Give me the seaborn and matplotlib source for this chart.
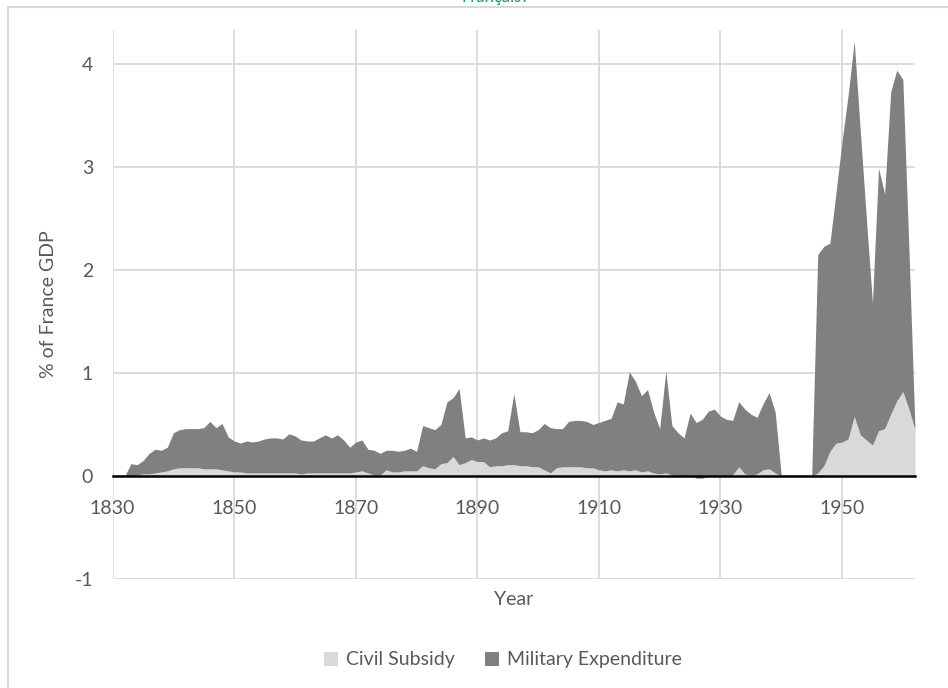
import matplotlib
matplotlib.use("Agg")
import matplotlib.pyplot as plt
import seaborn as sns
import pandas as pd
from matplotlib.patches import Rectangle, Patch

years = list(range(1830, 1963))

civil_subsidy = [
    0.00, 0.00, 0.00, 0.00, 0.01, 0.02, 0.02, 0.03, 0.04, 0.05,   # 1830-1839
    0.07, 0.08, 0.08, 0.08, 0.08, 0.07, 0.07, 0.07, 0.06, 0.05,   # 1840-1849
    0.04, 0.04, 0.03, 0.03, 0.03, 0.03, 0.03, 0.03, 0.03, 0.03,   # 1850-1859
    0.03, 0.02, 0.03, 0.03, 0.03, 0.03, 0.03, 0.03, 0.03, 0.03,   # 1860-1869
    0.04, 0.05, 0.03, 0.01, 0.01, 0.06, 0.04, 0.04, 0.05, 0.05,   # 1870-1879
    0.05, 0.10, 0.08, 0.07, 0.12, 0.13, 0.19, 0.11, 0.13, 0.16,   # 1880-1889
    0.14, 0.14, 0.09, 0.10, 0.10, 0.11, 0.11, 0.10, 0.10, 0.09,   # 1890-1899
    0.09, 0.06, 0.03, 0.08, 0.09, 0.09, 0.09, 0.09, 0.08, 0.08,   # 1900-1909
    0.06, 0.05, 0.06, 0.05, 0.06, 0.05, 0.06, 0.04, 0.05, 0.03,   # 1910-1919
    0.02, 0.03, 0.01, 0.00, 0.00, 0.01, -0.02, -0.02, 0.00, 0.00, # 1920-1929
    0.00, 0.00, 0.01, 0.09, 0.02, 0.01, 0.02, 0.06, 0.07, 0.03,   # 1930-1939
    0.00, 0.00, 0.00, 0.00, 0.00, 0.00, 0.03, 0.10, 0.24, 0.32,   # 1940-1949
    0.33, 0.36, 0.58, 0.40, 0.35, 0.30, 0.44, 0.46, 0.60, 0.73,   # 1950-1959
    0.82, 0.65, 0.45,                                             # 1960-1962
]

military_expenditure = [
    0.00, 0.00, 0.00, 0.12, 0.10, 0.13, 0.20, 0.23, 0.21, 0.23,   # 1830-1839
    0.35, 0.37, 0.38, 0.38, 0.38, 0.40, 0.46, 0.40, 0.45, 0.33,   # 1840-1849
    0.30, 0.28, 0.31, 0.30, 0.31, 0.33, 0.34, 0.34, 0.33, 0.38,   # 1850-1859
    0.36, 0.33, 0.31, 0.31, 0.34, 0.37, 0.34, 0.37, 0.32, 0.25,   # 1860-1869
    0.29, 0.30, 0.23, 0.24, 0.21, 0.19, 0.21, 0.20, 0.20, 0.22,   # 1870-1879
    0.19, 0.39, 0.39, 0.38, 0.38, 0.59, 0.57, 0.74, 0.24, 0.22,   # 1880-1889
    0.21, 0.23, 0.26, 0.27, 0.32, 0.33, 0.69, 0.33, 0.33, 0.33,   # 1890-1899
    0.36, 0.45, 0.44, 0.38, 0.37, 0.44, 0.45, 0.45, 0.45, 0.42,   # 1900-1909
    0.46, 0.49, 0.50, 0.67, 0.64, 0.96, 0.86, 0.74, 0.79, 0.59,   # 1910-1919
    0.44, 0.99, 0.48, 0.42, 0.37, 0.60, 0.54, 0.57, 0.63, 0.65,   # 1920-1929
    0.58, 0.55, 0.53, 0.63, 0.63, 0.59, 0.55, 0.64, 0.74, 0.59,   # 1930-1939
    0.00, 0.00, 0.00, 0.00, 0.00, 0.00, 2.12, 2.13, 2.02, 2.43,   # 1940-1949
    2.92, 3.34, 3.64, 2.95, 2.15, 1.38, 2.55, 2.28, 3.13, 3.21,   # 1950-1959
    3.03, 1.55, 0.00,                                             # 1960-1962
]

series_names = ["Civil Subsidy", "Military Expenditure"]
series_colors = ["#d9d9d9", "#808080"]
x_ticks = [1830, 1850, 1870, 1890, 1910, 1930, 1950]
y_ticks = [-1, 0, 1, 2, 3, 4]

df = pd.DataFrame({"Year": years,
                   "Civil Subsidy": civil_subsidy,
                   "Military Expenditure": military_expenditure})

sns.set_theme(style="whitegrid")
plt.rcParams["font.family"] = ["Lato", "DejaVu Sans"]
plt.rcParams["axes.unicode_minus"] = False
text_color = "#595959"
fs = 14

fig = plt.figure(figsize=(9.48, 6.88), dpi=100)
ax = fig.add_axes([0.1188, 0.1584, 0.8464, 0.798])

ax.stackplot(df["Year"], df["Civil Subsidy"], df["Military Expenditure"],
             colors=series_colors, linewidth=0, labels=series_names)

ax.set_xlim(1830, 1962)
ax.set_ylim(-1, 4.33)
ax.set_xticks(x_ticks)
ax.set_yticks(y_ticks)
ax.grid(True, color="#d9d9d9", linewidth=1.3)
ax.set_axisbelow(True)
ax.set_facecolor("white")

for s in ["left", "right", "top"]:
    ax.spines[s].set_visible(False)
ax.spines["bottom"].set_position(("data", 0))
ax.spines["bottom"].set_color("black")
ax.spines["bottom"].set_linewidth(1.8)
ax.spines["bottom"].set_zorder(5)

ax.tick_params(axis="x", length=0, pad=17, labelsize=fs, labelcolor=text_color)
ax.tick_params(axis="y", length=0, pad=14, labelsize=fs, labelcolor=text_color)

ax.set_xlabel("Year", fontsize=fs, color=text_color)
ax.xaxis.set_label_coords(0.5, -0.022)
ax.set_ylabel("% of France GDP", fontsize=fs, color=text_color)
ax.yaxis.set_label_coords(-0.069, 0.5)

handles = [Patch(facecolor=c, edgecolor="none") for c in series_colors]
leg = fig.legend(handles, series_names, loc="center",
                 bbox_to_anchor=(503 / 948, 1 - 660 / 688), ncol=2,
                 frameon=False, fontsize=fs, handlelength=0.7,
                 handleheight=0.7, handletextpad=0.4, columnspacing=1.6)
for t in leg.get_texts():
    t.set_color(text_color)

# chart frame
fig.patches.append(Rectangle((8 / 948, -0.1), 2, (688 - 7.3) / 688 + 0.1,
                             transform=fig.transFigure, fill=False,
                             edgecolor="#d9d9d9", linewidth=1.5))
fig.text(495 / 948, 1 - 2 / 688, "Français?", color="#1a9c5b",
         ha="center", va="baseline", fontsize=12)

fig.savefig("out.png", dpi=100, facecolor="white")
